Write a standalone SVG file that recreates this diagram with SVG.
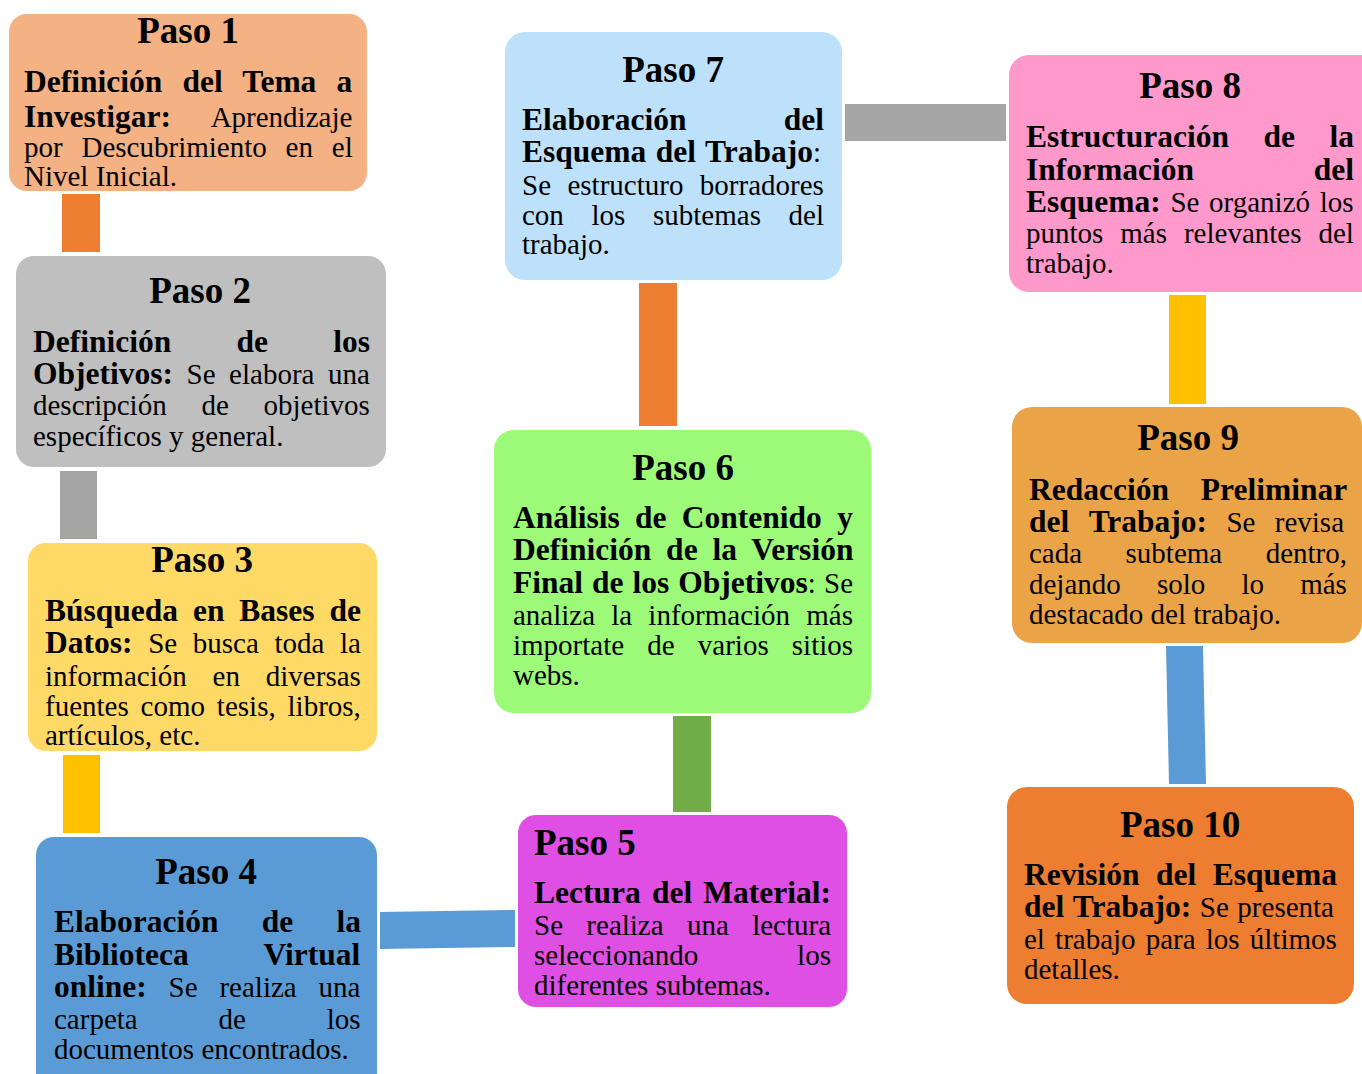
<svg xmlns="http://www.w3.org/2000/svg" width="1362" height="1074" viewBox="0 0 1362 1074">
<style>
text{font-family:"Liberation Serif","Times New Roman",serif;fill:#000;font-size:29px}
.t{font-size:37px;font-weight:bold;text-anchor:middle}
.tl{font-size:37px;font-weight:bold}
.b{font-size:31.5px;font-weight:bold}
.r{font-size:29px;font-weight:normal}
</style>
<rect width="1362" height="1074" fill="#fff"/>
<g id="connectors">
<rect x="62" y="194" width="38" height="58" fill="#ED7D31"/>
<rect x="60" y="471" width="37" height="68" fill="#A5A5A5"/>
<rect x="63" y="755" width="37" height="78" fill="#FFC000"/>
<polygon points="380,912 515,910 515,947 380,949" fill="#5B9BD5"/>
<rect x="673" y="716" width="38" height="96" fill="#70AD47"/>
<rect x="639" y="283" width="38" height="143" fill="#ED7D31"/>
<rect x="845" y="104" width="161" height="37" fill="#A5A5A5"/>
<rect x="1169" y="295" width="37" height="109" fill="#FFC000"/>
<polygon points="1166,646 1203,646 1206,784 1169,784" fill="#5B9BD5"/>
</g>
<g id="paso1">
<rect x="9" y="14" width="358" height="177" rx="18" fill="#F4B183"/>
<text class="t" x="188" y="43">Paso 1</text>
<text class="b" x="24" y="92" word-spacing="12.3">Definición del Tema a</text>
<text x="24" y="127" word-spacing="34"><tspan class="b">Investigar:</tspan><tspan class="r"> Aprendizaje</tspan></text>
<text class="r" x="24" y="157" word-spacing="11.6">por Descubrimiento en el</text>
<text class="r" x="24" y="186">Nivel Inicial.</text>
</g>
<g id="paso2">
<rect x="16" y="256" width="370" height="211" rx="18" fill="#BFBFBF"/>
<text class="t" x="200" y="303">Paso 2</text>
<text class="b" x="33" y="352" word-spacing="57.4">Definición de los</text>
<text x="33" y="384" word-spacing="6.3"><tspan class="b">Objetivos:</tspan><tspan class="r"> Se elabora una</tspan></text>
<text class="r" x="33" y="415" word-spacing="27.5">descripción de objetivos</text>
<text class="r" x="33" y="446">específicos y general.</text>
</g>
<g id="paso3">
<rect x="28" y="543" width="349" height="208" rx="18" fill="#FFD966"/>
<text class="t" x="202" y="572">Paso 3</text>
<text class="b" x="45" y="621" word-spacing="7">Búsqueda en Bases de</text>
<text x="45" y="653" word-spacing="8.4"><tspan class="b">Datos:</tspan><tspan class="r"> Se busca toda la</tspan></text>
<text class="r" x="45" y="686" word-spacing="18.6">información en diversas</text>
<text class="r" x="45" y="716" word-spacing="4.6">fuentes como tesis, libros,</text>
<text class="r" x="45" y="745">artículos, etc.</text>
</g>
<g id="paso4">
<rect x="36" y="837" width="341" height="260" rx="18" fill="#5B9BD5"/>
<text class="t" x="206" y="884">Paso 4</text>
<text class="b" x="54" y="932" word-spacing="35.4">Elaboración de la</text>
<text class="b" x="54" y="965" word-spacing="67.4">Biblioteca Virtual</text>
<text x="54" y="997" word-spacing="14.6"><tspan class="b">online:</tspan><tspan class="r"> Se realiza una</tspan></text>
<text class="r" x="54" y="1029" word-spacing="73.6">carpeta de los</text>
<text class="r" x="54" y="1059">documentos encontrados.</text>
</g>
<g id="paso5">
<rect x="518" y="815" width="329" height="192" rx="18" fill="#DF4FE3"/>
<text class="tl" x="534" y="855">Paso 5</text>
<text class="b" x="534" y="903" word-spacing="3.3">Lectura del Material:</text>
<text class="r" x="534" y="935" word-spacing="16.1">Se realiza una lectura</text>
<text class="r" x="534" y="965" word-spacing="91.6">seleccionando los</text>
<text class="r" x="534" y="995">diferentes subtemas.</text>
</g>
<g id="paso6">
<rect x="494" y="430" width="377" height="283" rx="20" fill="#9DF978"/>
<text class="t" x="683" y="480">Paso 6</text>
<text class="b" x="513" y="528" word-spacing="7.4">Análisis de Contenido y</text>
<text class="b" x="513" y="560" word-spacing="7">Definición de la Versión</text>
<text x="513" y="593" word-spacing="1.1"><tspan class="b">Final de los Objetivos</tspan><tspan class="r">: Se</tspan></text>
<text class="r" x="513" y="625" word-spacing="8.9">analiza la información más</text>
<text class="r" x="513" y="655" word-spacing="15.9">importate de varios sitios</text>
<text class="r" x="513" y="685">webs.</text>
</g>
<g id="paso7">
<rect x="505" y="32" width="337" height="248" rx="20" fill="#BDE0FB"/>
<text class="t" x="673" y="82">Paso 7</text>
<text class="b" x="522" y="130" word-spacing="89.3">Elaboración del</text>
<text x="522" y="162" word-spacing="1.7"><tspan class="b">Esquema del Trabajo</tspan><tspan class="r">:</tspan></text>
<text class="r" x="522" y="195" word-spacing="9.2">Se estructuro borradores</text>
<text class="r" x="522" y="225" word-spacing="20.4">con los subtemas del</text>
<text class="r" x="522" y="254">trabajo.</text>
</g>
<g id="paso8">
<rect x="1009" y="55" width="380" height="237" rx="20" fill="#FF99CC"/>
<text class="t" x="1190" y="98">Paso 8</text>
<text class="b" x="1026" y="147" word-spacing="26.6">Estructuración de la</text>
<text class="b" x="1026" y="180" word-spacing="111.9">Información del</text>
<text x="1026" y="212" word-spacing="2.4"><tspan class="b">Esquema:</tspan><tspan class="r"> Se organizó los</tspan></text>
<text class="r" x="1026" y="243" word-spacing="9.7">puntos más relevantes del</text>
<text class="r" x="1026" y="273">trabajo.</text>
</g>
<g id="paso9">
<rect x="1012" y="407" width="350" height="236" rx="20" fill="#EAA447"/>
<text class="t" x="1188" y="450">Paso 9</text>
<text class="b" x="1029" y="500" word-spacing="24">Redacción Preliminar</text>
<text x="1029" y="532" word-spacing="12.1"><tspan class="b">del Trabajo:</tspan><tspan class="r"> Se revisa</tspan></text>
<text class="r" x="1029" y="563" word-spacing="36.2">cada subtema dentro,</text>
<text class="r" x="1029" y="594" word-spacing="28.9">dejando solo lo más</text>
<text class="r" x="1029" y="624">destacado del trabajo.</text>
</g>
<g id="paso10">
<rect x="1007" y="787" width="347" height="217" rx="20" fill="#ED7D31"/>
<text class="t" x="1180" y="837">Paso 10</text>
<text class="b" x="1024" y="885" word-spacing="8.6">Revisión del Esquema</text>
<text x="1024" y="917" word-spacing="1.3"><tspan class="b">del Trabajo:</tspan><tspan class="r"> Se presenta</tspan></text>
<text class="r" x="1024" y="949" word-spacing="2.9">el trabajo para los últimos</text>
<text class="r" x="1024" y="979">detalles.</text>
</g>
</svg>
